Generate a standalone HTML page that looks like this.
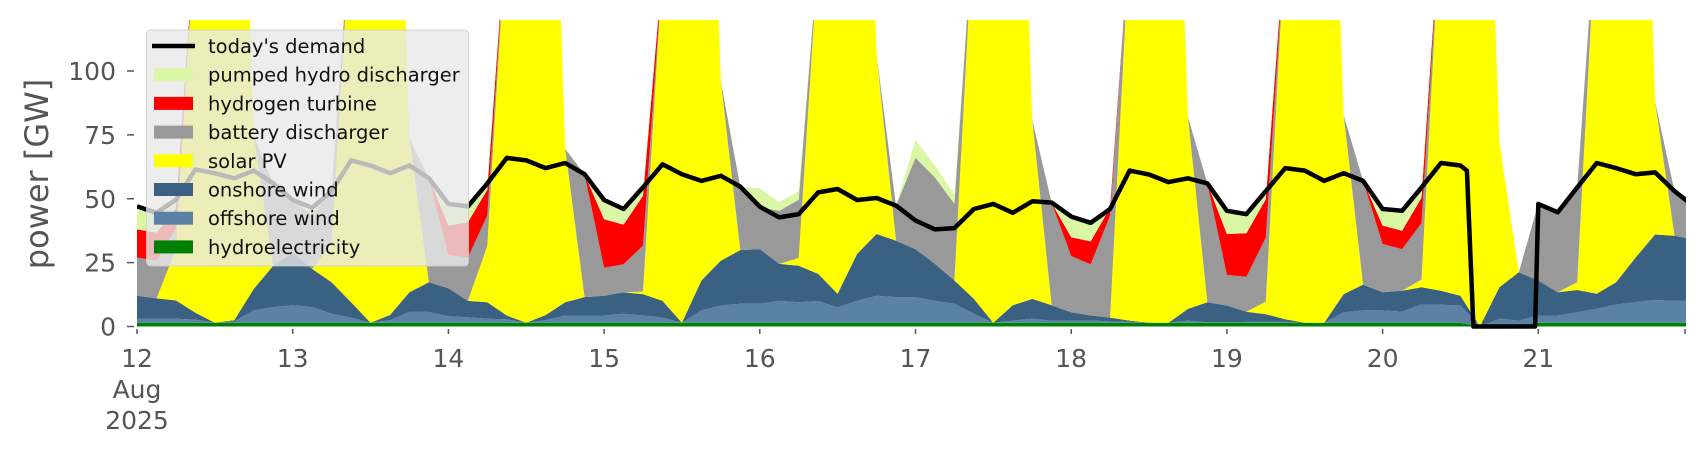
<!DOCTYPE html>
<html><head><meta charset="utf-8"><style>
html,body{margin:0;padding:0;background:#fff;}
svg{display:block;font-family:"DejaVu Sans","Liberation Sans",sans-serif;}
</style></head><body>
<svg id="chart" width="1706" height="460" viewBox="0 0 1706 460" xmlns="http://www.w3.org/2000/svg">
<defs><clipPath id="plotclip"><rect x="137" y="20" width="1549" height="310"/></clipPath></defs>
<g id="areas" clip-path="url(#plotclip)"></g>
<g id="demandg" clip-path="url(#plotclip)"></g>
<g id="yaxis"></g>
<g id="xaxis"></g>
<text x="0" y="0" transform="translate(48,174) rotate(-90)" text-anchor="middle" font-size="32" fill="#555">power [GW]</text>
<g id="legend">
<rect x="146.5" y="30" width="322" height="236" rx="4" fill="#e8e8e8" fill-opacity="0.8" stroke="#cccccc" stroke-opacity="0.8" stroke-width="1"/>
</g>
</svg>
<script>
// time grid: 3-hourly, 12 Aug 2025 00:00 onward (hours)
const stepHours = 3;
const hydro = [
1.5,1.5,1.5,1.5,1.5,1.5,1.5,1.5,
1.5,1.5,1.5,1.5,1.5,1.5,1.5,1.5,
1.5,1.5,1.5,1.5,1.5,1.5,1.5,1.5,
1.5,1.5,1.5,1.5,1.5,1.5,1.5,1.5,
1.5,1.5,1.5,1.5,1.5,1.5,1.5,1.5,
1.5,1.5,1.5,1.5,1.5,1.5,1.5,1.5,
1.5,1.5,1.5,1.5,1.5,1.5,1.5,1.5,
1.5,1.5,1.5,1.5,1.5,1.5,1.5,1.5,
1.5,1.5,1.5,1.5,1.5,0,0,0,
1.5,1.5,1.5,1.5,1.5,1.5,1.5,1.5,1.5];
const offshore = [
1.5,1.5,1.5,1.2,0,0.5,4.8,6.1,
6.8,6.1,3.5,2,0,1,4.2,4.2,
2.5,2.1,1.5,1.3,0,1,2.8,2.8,
2.8,3.5,2.8,2,0,4.8,6.7,7.4,
7.4,8.5,8,8.5,6,8.5,10.5,10,
10,8.5,7.4,3.5,0,0.8,1.5,0.8,
0.8,0.8,0.5,0.3,0,0,0.8,0.2,
0.2,0.3,0.3,0.3,0,0,4,4.8,
4.8,4.3,7.1,7,6.7,0,3,2.3,
2.8,2.8,4.1,5.4,7.1,8,8.9,8.5,8.5];
const onshore = [
9,8,7.2,2.7,0,0.5,8.4,16.2,
20.7,14.9,12.3,6,0,2,7.7,11.6,
11,6.4,6.5,1.5,0,2,5.2,7.2,
7.7,8.4,8.4,6.5,0,11.7,17.6,21,
21.4,14.5,14.3,10.6,5.3,18.4,24.2,22.1,
18.8,14.5,9.1,5.8,0,6,7.8,6,
3.3,2,1.5,0.5,0,0,4.6,7.8,
6.5,4,3,1,0,0,7.2,10.1,
7.1,8.2,6.8,5.5,3.8,0,12.4,18.9,
13.7,9.1,8.7,5.9,8.7,17.5,25.6,25.5,24];
const solar = [
0,0,20,150,250,300,60,0,
0,0,15,150,250,300,60,0,
0,0,22,155,250,300,60,0,
0,0,1,130,250,300,70,0,
0,0,3,125,250,300,70,0,
0,0,0,150,260,300,70,0,
0,0,0,150,250,300,75,0,
0,0,5,150,250,300,70,0,
0,0,3,150,250,300,57,0,
0,0,3,150,250,300,52,0,0];
const battery = [
15,14.8,8,0,0,0,0,32,
20.5,21,20.7,0,0,0,0,40.7,
13,17,12,0,0,0,0,48,
11,11,18,0,0,0,0,24.7,
16.3,20.8,22.8,0,0,0,0,13.7,
35.7,33.8,30,0,0,0,0,40,
22,20,40,0,0,0,0,46.5,
12,13.7,25,0,0,0,0,40.6,
18.9,16.3,22,0,0,0,0,0,
30,31.3,37,0,0,0,0,17.5,14];
const hydrogen = [
11,11,8,0,0,0,0,0,
0,0,0,0,0,0,0,0,
11.5,13.8,10,0,0,0,0,0,
19,15.5,19.5,0,0,0,0,0,
0,0,0,0,0,0,0,0,
0,0,0,0,0,0,0,0,
7.3,9,3,0,0,0,0,0,
16,17,15,0,0,0,0,0,
7.2,7.2,10,0,0,0,0,0,
0,0,0,0,0,0,0,0,0];
const pumped = [
8,7,4,0,0,0,0,0,
0,3,0,0,0,0,0,0,
8,5.8,3,0,0,0,0,0,
8,6.6,2.5,0,0,0,0,0,
7.4,3.3,3.3,0,0,0,0,0,
7,4.7,3.8,0,0,0,0,0,
7.7,7,0,0,0,0,0,0,
9,6.5,2,0,0,0,0,0,
5.8,7.2,3,0,0,0,0,0,
0,0,0,0,0,0,0,0,0];
const demand = [
47,44.5,49.6,61.5,60,58,61,56,
49.5,46.5,53,65,63,60,63,58,
48,47,56,66,65,62,64,59.6,
49.5,46,54.5,63.5,59.6,57,59,54.7,
46.9,42.7,44,52.5,53.8,49.5,50.3,47.3,
41.5,38,38.5,46,48,44.5,49,48.5,
43,40.6,46,61,59.5,56.5,58,56,
45.3,44,53,62,61,57,60,57,
46,45.3,54.4,64,63,0,0,0,
48,44.7,54.4,64,62,59.6,60.3,53,47];
const demandExtraHours = [205, 206, 215.5];
const demandExtraValues = [61, 0, 0];
const yTicks = [0, 25, 50, 75, 100];
const xTickLabels = ["12","13","14","15","16","17","18","19","20","21"];

const X0 = 137, DAYW = 155.7, Y0 = 326.5, YS = 2.555;
function xs(h){ return X0 + h/24*DAYW; }
function ys(v){ return Y0 - v*YS; }
const NS = "http://www.w3.org/2000/svg";
const series = [
 {name:"hydroelectricity", vals:hydro, color:"#008000"},
 {name:"offshore wind", vals:offshore, color:"#5b82a5"},
 {name:"onshore wind", vals:onshore, color:"#3b6182"},
 {name:"solar PV", vals:solar, color:"#ffff00"},
 {name:"battery discharger", vals:battery, color:"#999999"},
 {name:"hydrogen turbine", vals:hydrogen, color:"#ff0000"},
 {name:"pumped hydro discharger", vals:pumped, color:"#daf7a6"}
];
const n = demand.length;
const hours = [];
for (let i=0;i<n;i++) hours.push(i*stepHours);
const areas = document.getElementById('areas');
let base = new Array(n).fill(0);
series.forEach(s=>{
  const top = base.map((b,i)=>b+s.vals[i]);
  let pts = [];
  for (let i=0;i<n;i++) pts.push(xs(hours[i]).toFixed(1)+","+ys(top[i]).toFixed(1));
  for (let i=n-1;i>=0;i--) pts.push(xs(hours[i]).toFixed(1)+","+ys(base[i]).toFixed(1));
  const p = document.createElementNS(NS,'polygon');
  p.setAttribute('points', pts.join(' '));
  p.setAttribute('fill', s.color);
  
  
  areas.appendChild(p);
  base = top;
});
// demand line
let dpts = hours.map((h,i)=>[h, demand[i]]);
demandExtraHours.forEach((h,i)=>dpts.push([h, demandExtraValues[i]]));
dpts.sort((a,b)=>a[0]-b[0]);
const dl = document.createElementNS(NS,'polyline');
dl.setAttribute('points', dpts.map(p=>xs(p[0]).toFixed(1)+","+ys(p[1]).toFixed(1)).join(' '));
dl.setAttribute('fill','none'); dl.setAttribute('stroke','#000'); dl.setAttribute('stroke-width','4.5');
dl.setAttribute('stroke-linejoin','round');


document.getElementById('demandg').appendChild(dl);
// y axis
const ya = document.getElementById('yaxis');
yTicks.forEach(v=>{
  const t = document.createElementNS(NS,'line');
  t.setAttribute('x1',127); t.setAttribute('x2',134); t.setAttribute('y1',ys(v)); t.setAttribute('y2',ys(v));
  t.setAttribute('stroke','#555'); t.setAttribute('stroke-width','1.5');
  
  
  ya.appendChild(t);
  const tx = document.createElementNS(NS,'text');
  tx.setAttribute('x',116); tx.setAttribute('y',ys(v)+9); tx.setAttribute('text-anchor','end');
  tx.setAttribute('font-size','25'); tx.setAttribute('fill','#555');
  tx.textContent = v;
  
  
  ya.appendChild(tx);
});
// x axis
const xa = document.getElementById('xaxis');
xTickLabels.forEach((lab,i)=>{
  const x = xs(i*24);
  const t = document.createElementNS(NS,'line');
  t.setAttribute('x1',x); t.setAttribute('x2',x); t.setAttribute('y1',329); t.setAttribute('y2',334);
  t.setAttribute('stroke','#555'); t.setAttribute('stroke-width','1.5');
  
  
  xa.appendChild(t);
  const lines = i===0 ? [lab,"Aug","2025"] : [lab];
  lines.forEach((s,j)=>{
    const tx = document.createElementNS(NS,'text');
    tx.setAttribute('x',x); tx.setAttribute('y',367+j*31); tx.setAttribute('text-anchor','middle');
    tx.setAttribute('font-size','25'); tx.setAttribute('fill','#555');
    tx.textContent = s;
    
    
    xa.appendChild(tx);
  });
});
const et = document.createElementNS(NS,'line');
et.setAttribute('x1',1685); et.setAttribute('x2',1685); et.setAttribute('y1',329); et.setAttribute('y2',334);
et.setAttribute('stroke','#555'); et.setAttribute('stroke-width','1.5');


xa.appendChild(et);
// legend
const lg = document.getElementById('legend');
const legendItems = [
 {name:"today's demand", color:"#000", line:true},
 {name:"pumped hydro discharger", color:"#daf7a6"},
 {name:"hydrogen turbine", color:"#ff0000"},
 {name:"battery discharger", color:"#999999"},
 {name:"solar PV", color:"#ffff00"},
 {name:"onshore wind", color:"#3b6182"},
 {name:"offshore wind", color:"#5b82a5"},
 {name:"hydroelectricity", color:"#008000"}
];
legendItems.forEach((it,i)=>{
  const cy = 46 + i*28.7;
  let h;
  if (it.line){
    h = document.createElementNS(NS,'line');
    h.setAttribute('x1',152); h.setAttribute('x2',195); h.setAttribute('y1',cy); h.setAttribute('y2',cy);
    h.setAttribute('stroke','#000'); h.setAttribute('stroke-width','4.5');
  } else {
    h = document.createElementNS(NS,'rect');
    h.setAttribute('x',154); h.setAttribute('y',cy-6.5); h.setAttribute('width',39); h.setAttribute('height',13);
    h.setAttribute('fill',it.color);
  }
  
  
  lg.appendChild(h);
  const tx = document.createElementNS(NS,'text');
  tx.setAttribute('x',208); tx.setAttribute('y',cy+7); tx.setAttribute('font-size','19.5'); tx.setAttribute('fill','#111');
  tx.textContent = it.name;
  
  
  lg.appendChild(tx);
});
</script>
</body></html>
